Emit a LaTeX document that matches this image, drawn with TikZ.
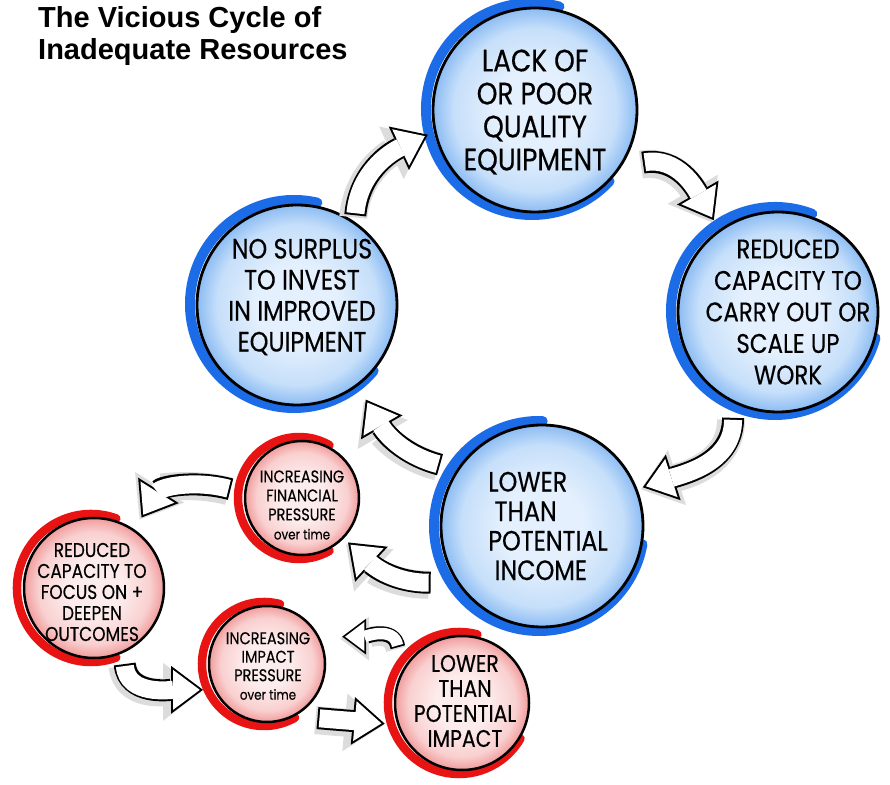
\documentclass[tikz,border=0pt]{standalone}
\usepackage{fontspec}
\setmainfont{Liberation Sans}
\newfontfamily\hand{Poppins}[FakeStretch=0.85, FakeBold=0.35]
\usetikzlibrary{arrows.meta,calc}
\pgfdeclarelayer{bg}
\pgfsetlayers{bg,main}
\definecolor{ringblue}{RGB}{28,108,232}
\definecolor{ringred}{RGB}{232,20,20}
\definecolor{bin}{RGB}{228,240,253}
\definecolor{bmid}{RGB}{198,223,250}
\definecolor{bout}{RGB}{140,188,243}
\definecolor{rin}{RGB}{253,236,236}
\definecolor{rmid}{RGB}{249,208,208}
\definecolor{rout}{RGB}{241,156,156}
\definecolor{shadowgray}{RGB}{220,220,220}
\pgfdeclareradialshading{blueshade}{\pgfpoint{0bp}{0bp}}{color(0bp)=(bin); color(10bp)=(bin); color(20bp)=(bmid); color(25bp)=(bout); color(50bp)=(bout)}
\pgfdeclareradialshading{redshade}{\pgfpoint{0bp}{0bp}}{color(0bp)=(rin); color(10bp)=(rin); color(20bp)=(rmid); color(25bp)=(rout); color(50bp)=(rout)}
\tikzset{
  bluecirc/.style={circle, draw=black, line width=2.8pt, shading=blueshade, minimum size=#1, inner sep=0pt},
  redcirc/.style={circle, draw=black, line width=2.5pt, shading=redshade, minimum size=#1, inner sep=0pt},
  bring/.style={draw=ringblue, line width=10pt, line cap=round},
  rring/.style={draw=ringred, line width=8.5pt, line cap=round},
  bigtext/.style 2 args={font=\hand\fontsize{#1}{#2}\selectfont, align=center, inner sep=0pt},
  harrow/.style={line width=22pt, draw=black, line cap=butt,
    -{Triangle[length=32pt, width=48pt, line width=0pt]},
    preaction={draw=shadowgray, line width=28pt, -{Triangle[length=38pt, width=58pt, line width=0pt]}, transform canvas={shift={(-2pt,-2pt)}}},
    postaction={draw=white, line width=18pt, shorten >=3.3pt, shorten <=2pt, -{Triangle[length=26.7pt, width=40pt, line width=0pt]}}},
  harrowsmall/.style={line width=15pt, draw=black, line cap=butt,
    -{Triangle[length=24pt, width=36pt, line width=0pt]},
    preaction={draw=shadowgray, line width=20pt, -{Triangle[length=29pt, width=44pt, line width=0pt]}, transform canvas={shift={(-2pt,-2pt)}}},
    postaction={draw=white, line width=11.5pt, shorten >=2.9pt, shorten <=1.75pt, -{Triangle[length=19.3pt, width=29pt, line width=0pt]}}}
}
\begin{document}
\begin{tikzpicture}[x=1pt,y=1pt]
\begin{pgfonlayer}{bg}
\fill[white] (0,0) rectangle (890,784);
\end{pgfonlayer}
\useasboundingbox (0,0) rectangle (890,784);

% title
\node[anchor=north west, inner sep=0pt, align=left, font=\bfseries\fontsize{29}{32}\selectfont] (title) at (38,778) {The Vicious Cycle of\\Inadequate Resources};

% circles
\node[bluecirc=204pt] (lack) at (535,674) {};
\node[bluecirc=200pt] (redcap) at (778,472) {};
\node[bluecirc=202pt] (income) at (542,258) {};
\node[bluecirc=200pt] (surplus) at (297,479) {};
\node[redcirc=114pt] (finpress) at (302,286) {};
\node[redcirc=140pt] (focus) at (94,196) {};
\node[redcirc=116pt] (imppress) at (267,120) {};
\node[redcirc=134pt] (lowimp) at (462,81) {};

% rings
\begin{pgfonlayer}{bg}
\draw[bring] ($(lack)+(-3,1)$) ++(75:106pt) arc[start angle=75,end angle=317,radius=106pt];
\draw[bring] ($(redcap)+(-3,1)$) ++(69:104pt) arc[start angle=69,end angle=345,radius=104pt];
\draw[bring] ($(income)+(-3,0)$) ++(88:105pt) arc[start angle=88,end angle=350,radius=105pt];
\draw[bring] ($(surplus)+(-3,1)$) ++(77:104pt) arc[start angle=77,end angle=320,radius=104pt];
\draw[rring] ($(finpress)+(-3,0)$) ++(60:61pt) arc[start angle=60,end angle=300,radius=61pt];
\draw[rring] ($(focus)+(-3,0)$) ++(70:74pt) arc[start angle=70,end angle=290,radius=74pt];
\draw[rring] ($(imppress)+(-3,0)$) ++(75:62pt) arc[start angle=75,end angle=300,radius=62pt];
\draw[rring] ($(lowimp)+(-3,0)$) ++(75:71pt) arc[start angle=75,end angle=330,radius=71pt];
\end{pgfonlayer}

% texts
\node[bigtext={31}{33}] (lackT) at (535,672) {LACK OF\\OR POOR\\QUALITY\\EQUIPMENT};
\node[bigtext={27}{31.5}] (redcapT) at (788,472) {REDUCED\\CAPACITY TO\\CARRY OUT OR\\SCALE UP\\WORK};
\node[bigtext={28}{29.5}, align=left] (incomeT) at (548,258) {LOWER\\\ THAN\\POTENTIAL\\\ INCOME};
\node[bigtext={28}{31}] (surplusT) at (302,487) {NO SURPLUS\\TO INVEST\\IN IMPROVED\\EQUIPMENT};
\node[bigtext={17}{19}] (finpressT) at (302,279) {INCREASING\\FINANCIAL\\PRESSURE\\{\fontsize{14}{15}\selectfont over time}};
\node[bigtext={20}{21}] (focusT) at (92,192) {REDUCED\\CAPACITY TO\\FOCUS ON +\\DEEPEN\\OUTCOMES};
\node[bigtext={17}{18.5}] (imppressT) at (268,118) {INCREASING\\IMPACT\\PRESSURE\\{\fontsize{14}{15}\selectfont over time}};
\node[bigtext={24}{25}] (lowimpT) at (465,83) {LOWER\\THAN\\POTENTIAL\\IMPACT};

% arrows
\draw[harrow] ($(surplus)+(57:107)$) to[out=85,in=205] ($(lack)+(193:110)$);
\draw[harrow] ($(lack)+(334:120)$) to[out=10,in=120] ($(redcap)+(125:112)$);
\draw[harrow] ($(redcap)+(247:115)$) to[out=270,in=18] ($(income)+(21:108)$);
\draw[harrow] ($(income)+(149:119)$) to[out=165,in=300] ($(surplus)+(306:117)$);
\draw[harrow] ($(income)+(207:125)$) to[out=180,in=317] ($(finpress)+(316:64)$);
\draw[harrow] ($(finpress)+(173:72)$) to[out=165,in=58] ($(focus)+(56:85)$);
\draw[harrow] ($(focus)+(292:82)$) to[out=275,in=180] ($(imppress)+(202:69)$);
\draw[harrow] ($(imppress)+(313:74)$) to[out=-5,in=175] ($(lowimp)+(195:80)$);
\draw[harrowsmall] ($(lowimp)+(139:85)$) to[out=100,in=0] ($(imppress)+(20:80)$);
\end{tikzpicture}
\end{document}
